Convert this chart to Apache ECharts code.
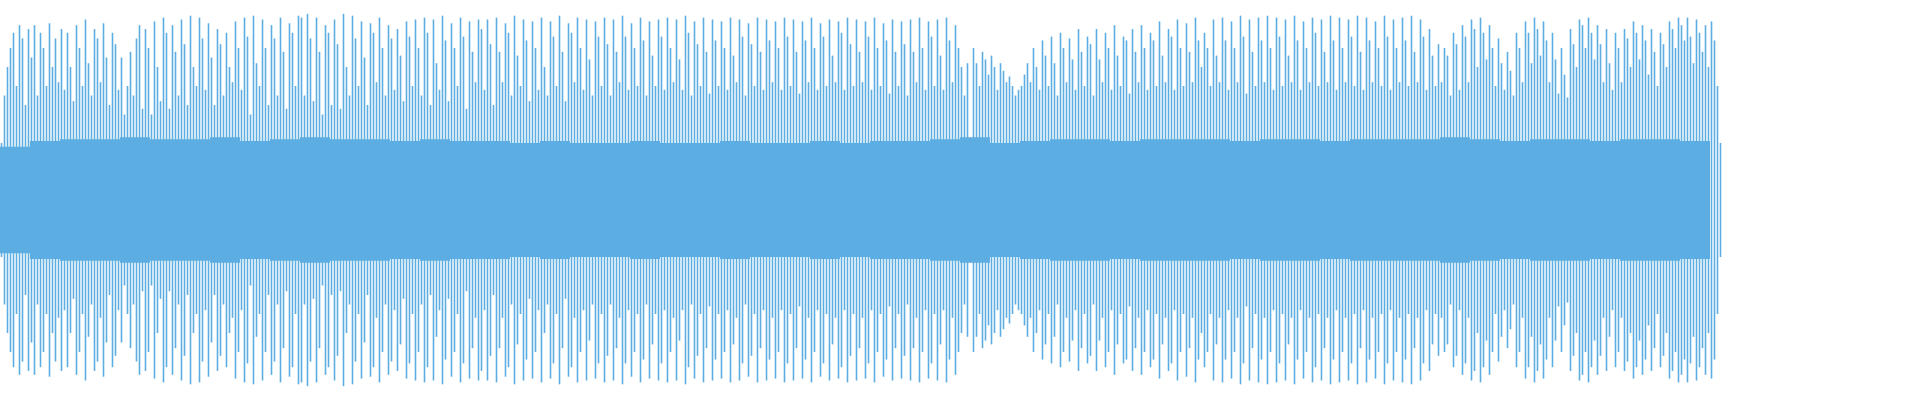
<!DOCTYPE html>
<html>
<head>
<meta charset="utf-8">
<script src="https://cdn.jsdelivr.net/npm/echarts@6/dist/echarts.min.js"></script>
<style>html,body{margin:0;padding:0;background:#fff}#main{width:1920px;height:400px}</style>
</head>
<body>
<div id="main"></div>
<script>
// peak amplitude of each stroke (one stroke every 3px)
var peaks = [
  30,55,70,80,88,60,92,85,50,90,75,92,55,88,80,60,93,70,85,62,
  90,58,88,70,52,92,80,60,95,72,55,90,85,62,93,75,50,88,82,58,
  75,45,60,78,55,85,92,48,90,80,45,94,70,52,96,88,48,92,78,55,
  95,82,50,97,70,60,96,85,58,93,75,50,90,82,55,88,70,62,94,80,
  58,96,86,45,97,72,60,95,80,50,92,85,55,96,78,48,93,88,60,97,
  96,55,98,85,52,96,78,45,92,88,50,95,82,48,98,70,55,97,85,60,
  94,75,50,93,88,62,96,80,55,92,85,58,90,76,52,94,86,60,95,80,
  55,96,88,50,95,72,58,97,84,52,93,80,60,96,86,48,94,78,62,95,
  90,58,95,82,50,96,78,62,93,88,55,97,76,60,95,84,52,94,80,58,
  96,70,55,94,86,60,97,78,52,93,88,62,96,80,58,95,74,55,94,86,
  60,96,82,55,95,78,62,97,86,58,93,80,60,96,84,55,94,76,60,95,
  86,58,96,80,62,95,74,58,97,88,55,94,82,60,96,78,56,95,84,60,
  94,80,58,96,76,62,95,86,55,93,82,60,96,78,58,95,84,62,94,80,
  58,96,86,60,95,78,56,94,84,62,96,80,58,93,86,60,95,76,62,94,
  88,58,96,82,60,95,78,62,94,86,58,96,80,60,93,84,56,95,78,60,
  94,82,55,95,78,62,96,80,58,94,86,60,95,76,58,96,84,62,92,80,
  70,55,72,20,80,72,60,78,74,66,76,70,58,72,68,62,65,60,55,58,
  60,66,72,62,80,70,58,84,76,60,86,72,55,88,80,62,85,74,58,90,
  78,60,86,82,55,90,74,62,88,80,58,92,76,60,86,84,56,90,78,62,
  92,80,58,88,84,60,94,76,62,90,86,58,95,80,60,93,78,62,96,84,
  70,88,80,60,95,76,62,96,84,58,94,80,62,97,86,56,95,78,60,96,
  84,62,97,80,58,96,86,60,95,76,62,97,84,58,94,80,62,96,88,60,
  95,78,62,97,84,58,96,80,62,95,86,60,97,78,58,96,84,62,94,80,
  60,97,86,58,95,80,62,96,84,60,97,78,62,95,86,58,90,76,60,82,
  62,80,76,55,88,82,58,92,86,62,95,90,70,96,88,74,92,80,60,85,
  72,58,78,68,55,88,80,62,94,88,72,96,90,76,94,84,62,88,74,56,
  80,66,54,90,82,70,95,92,80,96,88,74,92,82,62,90,72,58,88,80,
  62,90,85,70,94,88,74,92,84,66,90,78,60,88,82,70,94,90,80,96,
  92,84,96,86,72,95,88,78,92,70,94,84,60,30
];
// dense core band, one value per 30px
var core = [
  28,31,32,32,33,32,32,33,31,32,33,32,32,31,32,31,31,30,31,30,
  30,31,30,30,31,30,30,31,30,31,31,32,33,30,31,32,32,31,32,32,
  32,31,32,32,31,32,32,32,33,32,31,32,32,31,32,32,31
];

var blue = '#5dade2';
var chart = echarts.init(document.getElementById('main'));
var strokeIdx = peaks.map(function (v, i) { return i; });
var coreIdx = core.map(function (v, i) { return i; });

chart.setOption({
  animation: false,
  grid: { left: 0, right: 0, top: 10, bottom: 10 },
  xAxis: [
    { type: 'category', data: strokeIdx, max: 639, show: false },
    { type: 'category', data: coreIdx, max: 63, show: false }
  ],
  yAxis: { type: 'value', min: -100, max: 100, show: false },
  series: [
    { type: 'bar', xAxisIndex: 1, stack: 'c', barWidth: '100%', itemStyle: { color: blue }, data: core },
    { type: 'bar', xAxisIndex: 1, stack: 'c', barWidth: '100%', itemStyle: { color: blue }, data: core.map(function (v) { return -v; }) },
    { type: 'bar', stack: 'p', barWidth: 1.6, itemStyle: { color: blue }, data: peaks },
    { type: 'bar', stack: 'p', barWidth: 1.6, itemStyle: { color: blue }, data: peaks.map(function (v) { return -v; }) }
  ]
});
</script>
</body>
</html>
